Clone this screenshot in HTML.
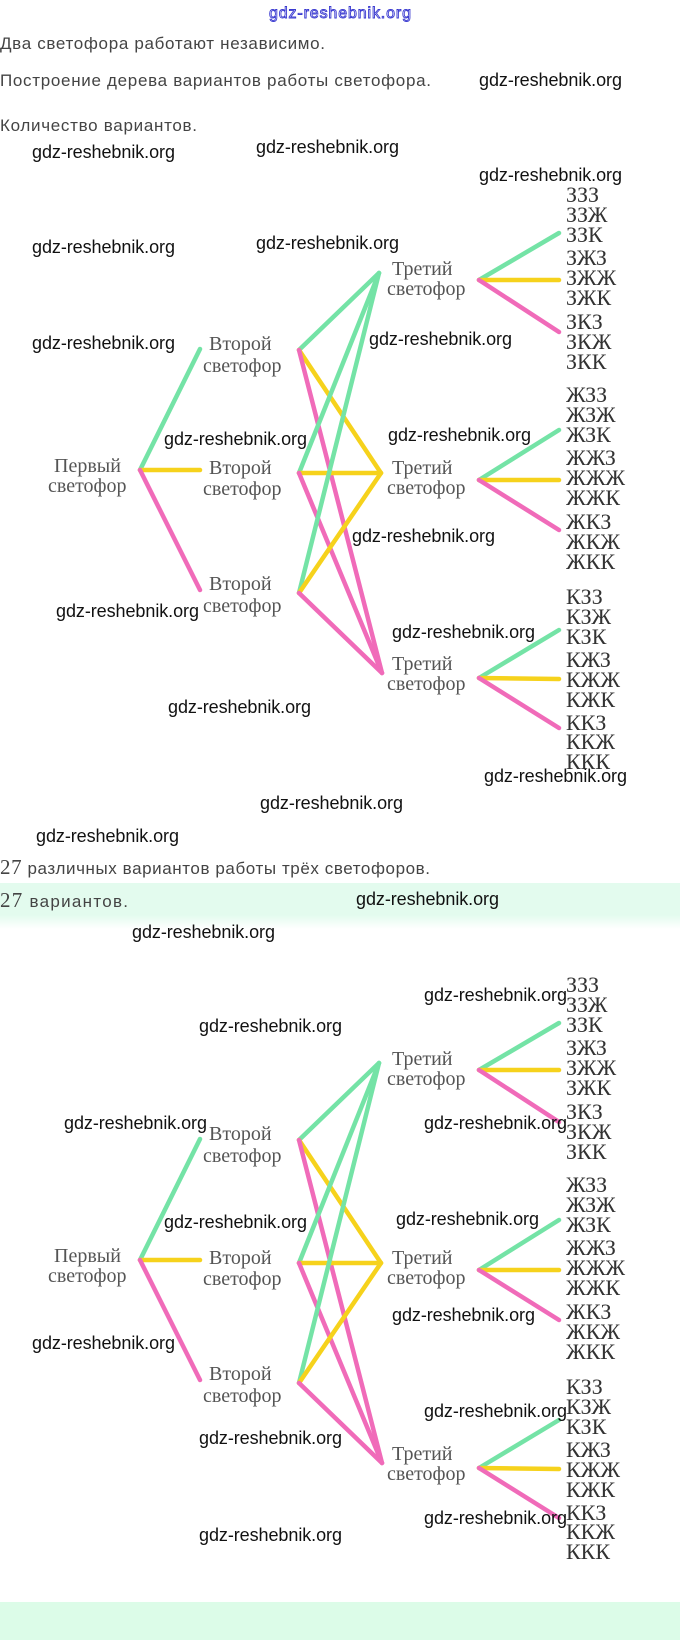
<!DOCTYPE html>
<html><head><meta charset="utf-8"><style>
html,body{margin:0;padding:0;background:#fff}
svg{display:block}
.t{font-family:"Liberation Sans",sans-serif;font-size:17px;fill:#444}
.w{font-family:"Liberation Sans",sans-serif;font-size:18px;fill:#111}
.n{font-family:"Liberation Serif",serif;font-size:20px;fill:#555}
.l{font-family:"Liberation Serif",serif;font-size:22px;fill:#333}
.g{stroke:#74e3a6;stroke-width:4.5;fill:none;stroke-linecap:round}
.y{stroke:#f6d21c;stroke-width:4.5;fill:none;stroke-linecap:round}
.p{stroke:#f06bb9;stroke-width:4.5;fill:none;stroke-linecap:round}
</style></head><body>
<svg width="680" height="1640" viewBox="0 0 680 1640" xmlns="http://www.w3.org/2000/svg">
<defs>
<linearGradient id="fade" x1="0" y1="0" x2="0" y2="1"><stop offset="0" stop-color="#e3fbee"/><stop offset="1" stop-color="#ffffff"/></linearGradient>
<g id="tree">
  <line class="g" x1="140" y1="470" x2="200" y2="349"/>
  <line class="y" x1="140" y1="470" x2="200" y2="470"/>
  <line class="p" x1="140" y1="470" x2="200" y2="590"/>
  <line class="g" x1="299" y1="350" x2="379" y2="273"/>
  <line class="y" x1="299" y1="350" x2="381" y2="473"/>
  <line class="p" x1="299" y1="350" x2="382" y2="673"/>
  <line class="g" x1="299" y1="473" x2="379" y2="273"/>
  <line class="y" x1="299" y1="473" x2="381" y2="473"/>
  <line class="p" x1="299" y1="473" x2="382" y2="673"/>
  <line class="g" x1="299" y1="593" x2="379" y2="273"/>
  <line class="y" x1="299" y1="593" x2="381" y2="473"/>
  <line class="p" x1="299" y1="593" x2="382" y2="673"/>
  <line class="g" x1="479" y1="280" x2="559" y2="233"/>
  <line class="y" x1="479" y1="280" x2="559" y2="280"/>
  <line class="p" x1="479" y1="280" x2="559" y2="332"/>
  <line class="g" x1="479" y1="480" x2="559" y2="430"/>
  <line class="y" x1="479" y1="480" x2="559" y2="480"/>
  <line class="p" x1="479" y1="480" x2="559" y2="530"/>
  <line class="g" x1="479" y1="678" x2="559" y2="630"/>
  <line class="y" x1="479" y1="678" x2="559" y2="679"/>
  <line class="p" x1="479" y1="678" x2="559" y2="728"/>
  <text class="n" x="54" y="472">Первый</text><text class="n" x="48" y="492">светофор</text>
  <text class="n" x="209" y="350">Второй</text><text class="n" x="203" y="372">светофор</text>
  <text class="n" x="209" y="474">Второй</text><text class="n" x="203" y="495">светофор</text>
  <text class="n" x="209" y="590">Второй</text><text class="n" x="203" y="612">светофор</text>
  <text class="n" x="392" y="275">Третий</text><text class="n" x="387" y="295">светофор</text>
  <text class="n" x="392" y="474">Третий</text><text class="n" x="387" y="494">светофор</text>
  <text class="n" x="392" y="670">Третий</text><text class="n" x="387" y="690">светофор</text>
  <text class="l" x="566" y="202">ЗЗЗ</text><text class="l" x="566" y="222">ЗЗЖ</text><text class="l" x="566" y="242">ЗЗК</text>
  <text class="l" x="566" y="265">ЗЖЗ</text><text class="l" x="566" y="285">ЗЖЖ</text><text class="l" x="566" y="305">ЗЖК</text>
  <text class="l" x="566" y="329">ЗКЗ</text><text class="l" x="566" y="349">ЗКЖ</text><text class="l" x="566" y="369">ЗКК</text>
  <text class="l" x="566" y="402">ЖЗЗ</text><text class="l" x="566" y="422">ЖЗЖ</text><text class="l" x="566" y="442">ЖЗК</text>
  <text class="l" x="566" y="465">ЖЖЗ</text><text class="l" x="566" y="485">ЖЖЖ</text><text class="l" x="566" y="505">ЖЖК</text>
  <text class="l" x="566" y="529">ЖКЗ</text><text class="l" x="566" y="549">ЖКЖ</text><text class="l" x="566" y="569">ЖКК</text>
  <text class="l" x="566" y="604">КЗЗ</text><text class="l" x="566" y="624">КЗЖ</text><text class="l" x="566" y="644">КЗК</text>
  <text class="l" x="566" y="667">КЖЗ</text><text class="l" x="566" y="687">КЖЖ</text><text class="l" x="566" y="707">КЖК</text>
  <text class="l" x="566" y="730">ККЗ</text><text class="l" x="566" y="749">ККЖ</text><text class="l" x="566" y="769">ККК</text>
</g>
</defs>

<text x="340" y="18" text-anchor="middle" font-family="Liberation Sans, sans-serif" font-size="16" fill="#fff" stroke="#3a3ad0" stroke-width="0.9" textLength="142">gdz-reshebnik.org</text>

<text class="t" x="0" y="49" textLength="325">Два светофора работают независимо.</text>
<text class="t" x="0" y="86" textLength="431">Построение дерева вариантов работы светофора.</text>
<text class="t" x="0" y="131" textLength="197">Количество вариантов.</text>

<use href="#tree"/>
<use href="#tree" transform="translate(0,790)"/>

<text class="t" x="0" y="874" textLength="430"><tspan font-family="Liberation Serif, serif" font-size="21">27</tspan> различных вариантов работы трёх светофоров.</text>
<rect x="0" y="883" width="680" height="32" fill="#e3fbee"/>
<rect x="0" y="915" width="680" height="14" fill="url(#fade)"/>
<text class="t" x="0" y="907" textLength="128"><tspan font-family="Liberation Serif, serif" font-size="21">27</tspan> вариантов.</text>
<rect x="0" y="1602" width="680" height="38" fill="#dcfce8"/>

<g class="w">
<text x="479" y="86" textLength="143">gdz-reshebnik.org</text>
<text x="32" y="158" textLength="143">gdz-reshebnik.org</text>
<text x="256" y="153" textLength="143">gdz-reshebnik.org</text>
<text x="479" y="181" textLength="143">gdz-reshebnik.org</text>
<text x="32" y="253" textLength="143">gdz-reshebnik.org</text>
<text x="256" y="249" textLength="143">gdz-reshebnik.org</text>
<text x="369" y="345" textLength="143">gdz-reshebnik.org</text>
<text x="32" y="349" textLength="143">gdz-reshebnik.org</text>
<text x="164" y="445" textLength="143">gdz-reshebnik.org</text>
<text x="388" y="441" textLength="143">gdz-reshebnik.org</text>
<text x="352" y="542" textLength="143">gdz-reshebnik.org</text>
<text x="56" y="617" textLength="143">gdz-reshebnik.org</text>
<text x="392" y="638" textLength="143">gdz-reshebnik.org</text>
<text x="168" y="713" textLength="143">gdz-reshebnik.org</text>
<text x="484" y="782" textLength="143">gdz-reshebnik.org</text>
<text x="260" y="809" textLength="143">gdz-reshebnik.org</text>
<text x="36" y="842" textLength="143">gdz-reshebnik.org</text>
<text x="356" y="905" textLength="143">gdz-reshebnik.org</text>
<text x="132" y="938" textLength="143">gdz-reshebnik.org</text>
<text x="424" y="1001" textLength="143">gdz-reshebnik.org</text>
<text x="199" y="1032" textLength="143">gdz-reshebnik.org</text>
<text x="64" y="1129" textLength="143">gdz-reshebnik.org</text>
<text x="424" y="1129" textLength="143">gdz-reshebnik.org</text>
<text x="164" y="1228" textLength="143">gdz-reshebnik.org</text>
<text x="396" y="1225" textLength="143">gdz-reshebnik.org</text>
<text x="32" y="1349" textLength="143">gdz-reshebnik.org</text>
<text x="392" y="1321" textLength="143">gdz-reshebnik.org</text>
<text x="424" y="1417" textLength="143">gdz-reshebnik.org</text>
<text x="199" y="1444" textLength="143">gdz-reshebnik.org</text>
<text x="424" y="1524" textLength="143">gdz-reshebnik.org</text>
<text x="199" y="1541" textLength="143">gdz-reshebnik.org</text>
</g>
</svg>
</body></html>
